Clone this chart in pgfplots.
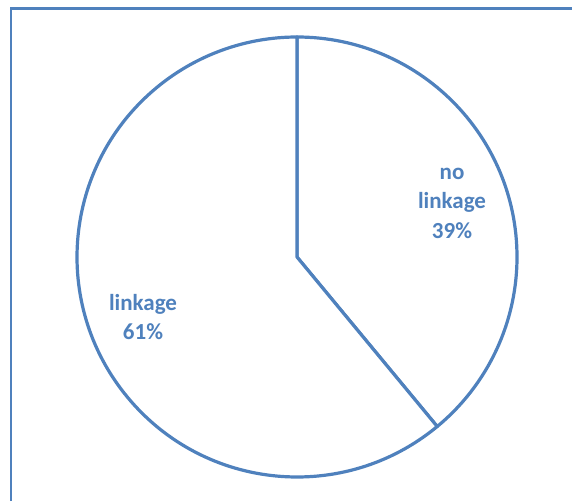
\documentclass[border=0pt]{standalone}
\usepackage{pgfplots}
\usepackage{pgfplotstable}
\pgfplotsset{compat=1.18}
\usepackage{fontspec}
\setmainfont{Carlito}
\definecolor{pieblue}{RGB}{79,129,189}
\pgfplotstableread{
label value
nolinkage 39
linkage 61
}\piedata
\begin{document}
\begin{tikzpicture}
\pgfplotstablegetelem{0}{value}\of\piedata \edef\va{\pgfplotsretval}
\pgfplotstablegetelem{1}{value}\of\piedata \edef\vb{\pgfplotsretval}
\pgfmathsetmacro{\angA}{90-3.6*\va}
\begin{axis}[
  hide axis, scale only axis,
  width=572pt, height=501pt,
  xmin=0, xmax=572, ymin=0, ymax=501,
  clip=false,
]
\coordinate (ll) at (axis cs:0,0);
\coordinate (ur) at (axis cs:572,501);
% frame
\draw[pieblue, line width=2.4pt] (axis cs:10.8,0) -- (axis cs:10.8,492.3) -- (axis cs:572,492.3);
% slices
\filldraw[draw=pieblue, fill=white, line width=3.2pt, line join=round]
  (axis cs:297,244) -- ++(90:220pt) arc[start angle=90, end angle=\angA, radius=220pt] -- cycle;
\filldraw[draw=pieblue, fill=white, line width=3.2pt, line join=round]
  (axis cs:297,244) -- ++(\angA:220pt) arc[start angle=\angA, end angle=-270, radius=220pt] -- cycle;
% labels
\node[pieblue, font=\fontsize{23}{29.5}\selectfont\bfseries, align=center] at (axis cs:452,298) {no\\linkage\\\va\%};
\node[pieblue, font=\fontsize{23}{29.5}\selectfont\bfseries, align=center] at (axis cs:143,184) {linkage\\\vb\%};
\end{axis}
\pgfresetboundingbox
\useasboundingbox (ll) rectangle (ur);
\end{tikzpicture}
\end{document}
